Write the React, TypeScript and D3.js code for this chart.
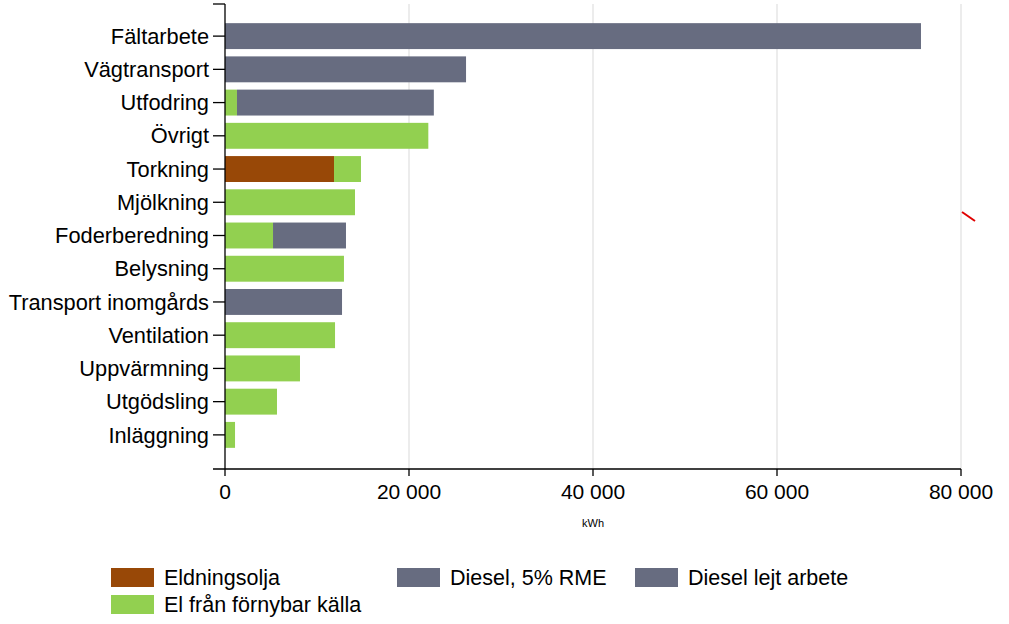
import React from "react";
import * as d3 from "d3";

const categories = [
  "Fältarbete", "Vägtransport", "Utfodring", "Övrigt", "Torkning", "Mjölkning",
  "Foderberedning", "Belysning", "Transport inomgårds", "Ventilation",
  "Uppvärmning", "Utgödsling", "Inläggning",
];
const seriesNames = ["Eldningsolja", "El från förnybar källa", "Diesel, 5% RME", "Diesel lejt arbete"];
const eldningsolja = [0, 0, 0, 0, 11850, 0, 0, 0, 0, 0, 0, 0, 0];
const elFornybar = [0, 0, 1300, 22100, 2930, 14130, 5220, 12930, 0, 11960, 8150, 5650, 1090];
const diesel5RME = [75650, 26200, 21400, 0, 0, 0, 7930, 0, 12720, 0, 0, 0, 0];
const dieselLejt = [0, 0, 0, 0, 0, 0, 0, 0, 0, 0, 0, 0, 0];
const xTicks = [0, 20000, 40000, 60000, 80000];
const colors = ["#984807", "#92D050", "#676C80", "#676C80"];

const FONT = "Arial, 'Liberation Sans', sans-serif";

export default function App() {
  const W = 1009, H = 624;
  const x0 = 225, x1 = 961, yTop = 4, yAxis = 469;
  const x = d3.scaleLinear().domain([0, 80000]).range([x0, x1]);
  const y = d3.scaleBand<string>().domain(categories).range([19.5, 451.5]).paddingInner(0.22).paddingOuter(0.11);

  const rows = categories.map((c, i) => ({
    cat: c,
    s0: eldningsolja[i], s1: elFornybar[i], s2: diesel5RME[i], s3: dieselLejt[i],
  }));
  const stack = d3.stack<any>().keys(["s0", "s1", "s2", "s3"]);
  const stacked = stack(rows);
  const fmt = (v: number) => d3.format(",")(v).replace(/,/g, " ");

  const legendItems = [
    { name: seriesNames[0], color: colors[0], lx: 111, ly: 568 },
    { name: seriesNames[2], color: colors[2], lx: 397, ly: 568 },
    { name: seriesNames[3], color: colors[3], lx: 635, ly: 568 },
    { name: seriesNames[1], color: colors[1], lx: 111, ly: 595 },
  ];

  return (
    <svg width={W} height={H} style={{ position: "absolute", left: 0, top: 0, background: "#fff" }} fontFamily={FONT}>
      <rect width={W} height={H} fill="#fff" />
      {xTicks.slice(1).map((t) => (
        <line key={t} x1={x(t)} x2={x(t)} y1={yTop} y2={yAxis} stroke="#d9d9d9" strokeWidth={1} />
      ))}
      {stacked.map((layer, si) => (
        <g key={si} fill={colors[si]}>
          {layer.map((d, i) =>
            d[1] - d[0] > 0 ? (
              <rect key={i} x={x(d[0])} y={y(categories[i])} width={x(d[1]) - x(d[0])} height={y.bandwidth()} />
            ) : null
          )}
        </g>
      ))}
      {/* y axis */}
      <line x1={x0} x2={x0} y1={yTop} y2={yAxis} stroke="#000" strokeWidth={1.3} />
      <line x1={213} x2={x0} y1={yTop} y2={yTop} stroke="#000" strokeWidth={1.3} />
      {categories.map((c) => {
        const cy = (y(c) as number) + y.bandwidth() / 2;
        return (
          <g key={c}>
            <line x1={213} x2={x0} y1={cy} y2={cy} stroke="#000" strokeWidth={1.3} />
            <text x={209} y={cy} dy="0.35em" textAnchor="end" fontSize={21.8} fill="#000">{c}</text>
          </g>
        );
      })}
      {/* x axis */}
      <line x1={213} x2={x1} y1={yAxis} y2={yAxis} stroke="#000" strokeWidth={1.3} />
      {xTicks.map((t) => (
        <g key={t}>
          <line x1={x(t)} x2={x(t)} y1={yAxis} y2={yAxis + 7} stroke="#000" strokeWidth={1.3} />
          <text x={x(t)} y={499} textAnchor="middle" fontSize={21} fill="#000">{fmt(t)}</text>
        </g>
      ))}
      <text x={x(40000)} y={527} textAnchor="middle" fontSize={11} fill="#000">kWh</text>
      {/* stray red mark */}
      <line x1={x(80000) + 1} y1={212} x2={x(80000) + 14} y2={221} stroke="#e00000" strokeWidth={2} />
      {/* legend */}
      {legendItems.map((l) => (
        <g key={l.name}>
          <rect x={l.lx} y={l.ly} width={43} height={19} fill={l.color} />
          <text x={l.lx + 53} y={l.ly + 9.5} dy="0.35em" fontSize={21.5} fill="#000">{l.name}</text>
        </g>
      ))}
    </svg>
  );
}
